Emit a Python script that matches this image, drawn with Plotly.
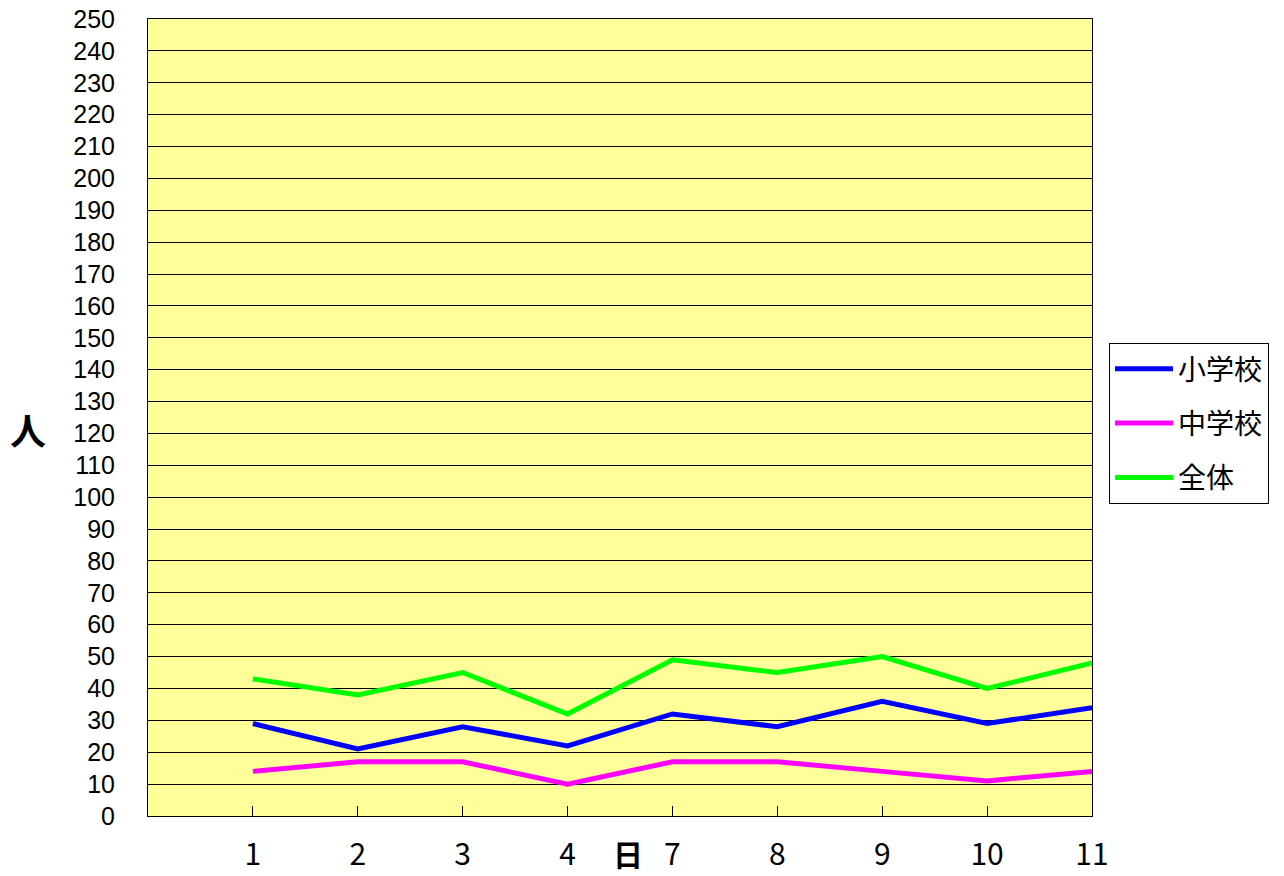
import plotly.graph_objects as go

days = ["1", "2", "3", "4", "7", "8", "9", "10", "11"]
elementary = [29, 21, 28, 22, 32, 28, 36, 29, 34]
junior_high = [14, 17, 17, 10, 17, 17, 14, 11, 14]
total = [43, 38, 45, 32, 49, 45, 50, 40, 48]

series_names = ["小学校", "中学校", "全体"]
series_values = [elementary, junior_high, total]
series_colors = ["#0000FF", "#FF00FF", "#00FF00"]

font_family = "Noto Sans CJK JP, Noto Sans, sans-serif"
narrow_family = "Liberation Sans Narrow, Arial Narrow, Noto Sans CJK JP, sans-serif"
ytick_family = "Liberation Sans, Arial, sans-serif"
xpos = list(range(1, len(days) + 1))

fig = go.Figure()
for i, (name, vals, col) in enumerate(zip(series_names, series_values, series_colors)):
    fig.add_trace(go.Scatter(
        x=xpos, y=vals, mode="lines", name=name,
        line=dict(color=col, width=5),
        legendgroup=f"g{i}",
    ))

fig.update_layout(
    width=1284, height=876,
    margin=dict(l=148, r=192, t=19, b=60, autoexpand=False),
    paper_bgcolor="white",
    plot_bgcolor="#FFFF99",
    font=dict(family=font_family, size=24, color="black"),
    showlegend=True,
    legend=dict(
        x=1.018, xanchor="left", y=0.5935, yanchor="top",
        bgcolor="white", bordercolor="black", borderwidth=1,
        font=dict(size=28), tracegroupgap=15, itemwidth=58,
    ),
    xaxis=dict(
        range=[0, len(days)], automargin=False,
        tickmode="array", tickvals=xpos, ticktext=days,
        ticks="inside", ticklen=10, tickcolor="black",
        showgrid=False, zeroline=False,
        showline=True, linecolor="black", linewidth=1, mirror=True,
        ticklabelstandoff=12,
        tickfont=dict(size=30, family=narrow_family),
    ),
    yaxis=dict(
        range=[0, 250], dtick=10, tick0=0, automargin=False,
        ticks="", showgrid=True, gridcolor="black", gridwidth=1,
        zeroline=False,
        showline=True, linecolor="black", linewidth=1, mirror=True,
        ticklabelstandoff=27, ticklabeloverflow="allow",
        tickfont=dict(size=25, family=ytick_family),
    ),
    annotations=[
        dict(text="<b>日</b>", xref="paper", yref="paper", x=0.5085, y=-0.0464,
             xanchor="center", yanchor="middle", showarrow=False,
             font=dict(size=30)),
        dict(text="<b>人</b>", xref="paper", yref="paper", x=-0.1276, y=0.485,
             xanchor="center", yanchor="middle", showarrow=False,
             font=dict(size=36)),
    ],
)

fig.write_html(
    "out.html",
    config={"displayModeBar": False},
    post_script="document.body.style.margin='0px';document.body.style.overflow='hidden';",
)
